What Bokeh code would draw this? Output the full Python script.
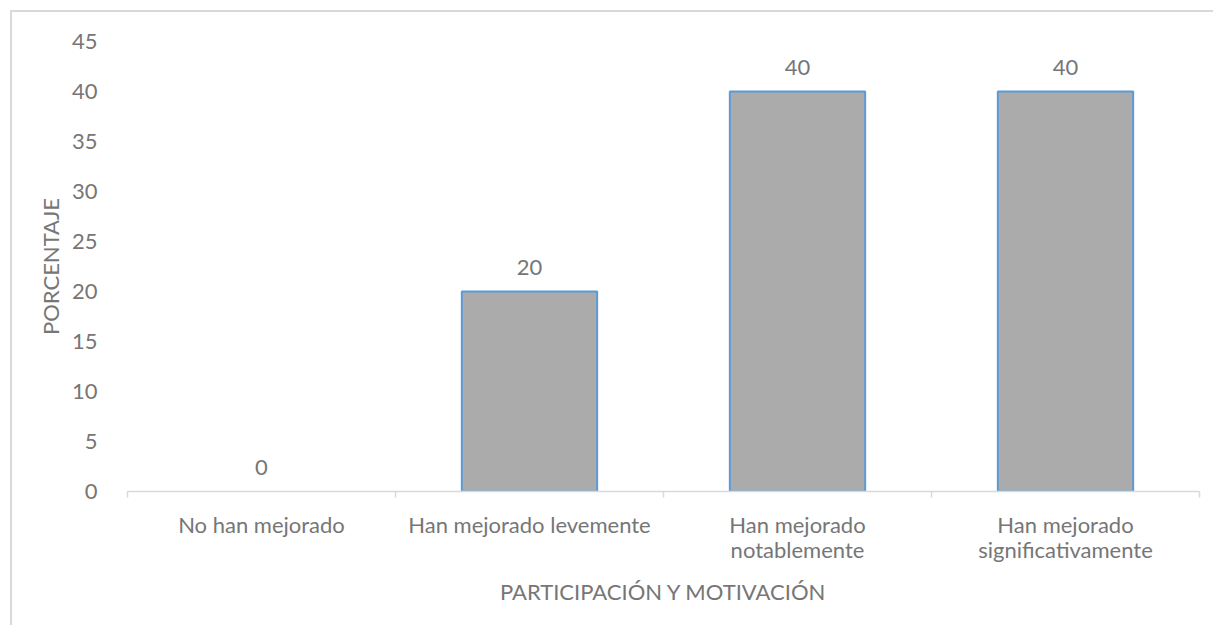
from bokeh.plotting import figure
from bokeh.models import ColumnDataSource, FixedTicker, Range1d
from bokeh.core.properties import value
from bokeh.embed import file_html
from bokeh.resources import INLINE

categories = ["No han mejorado", "Han mejorado levemente",
              "Han mejorado\nnotablemente", "Han mejorado\nsignificativamente"]
values = [0, 20, 40, 40]
y_ticks = [0, 5, 10, 15, 20, 25, 30, 35, 40, 45]
x_title = "PARTICIPACIÓN Y MOTIVACIÓN"
y_title = "PORCENTAJE"

FONT = "Lato"
FS = "22px"
TXT = "#767676"
GRID = "#d9d9d9"

xs = [i + 0.5 for i in range(len(categories))]
labels = [str(v) for v in values]
edge = ["#5b9bd5" if v > 0 else None for v in values]
src = ColumnDataSource(dict(x=xs, top=values, label=labels, edge=edge))

p = figure(width=1203, height=615, output_backend="svg", toolbar_location=None,
           x_range=Range1d(0, len(categories)), y_range=Range1d(0, 45),
           min_border_left=115, min_border_right=16, min_border_top=29,
           min_border_bottom=136)
p.styles = {"border-left": "2px solid #d9d9d9", "border-top": "2px solid #d9d9d9",
            "margin-left": "10px", "margin-top": "10px"}
p.outline_line_color = None
p.grid.visible = False

p.vbar(x="x", top="top", width=0.505, bottom=0, source=src,
       fill_color="#ababab", line_color="edge", line_width=2)
p.text(x="x", y="top", text="label", source=src, text_align="center",
       text_baseline="middle", y_offset=-24, text_color=TXT,
       text_font=value(FONT), text_font_size=FS)

xa = p.xaxis[0]
xa.ticker = FixedTicker(ticks=xs, minor_ticks=list(range(len(categories) + 1)))
xa.major_label_overrides = {x: c for x, c in zip(xs, categories)}
xa.major_tick_line_color = None
xa.major_tick_out = 0
xa.minor_tick_in = 0
xa.minor_tick_out = 6
xa.minor_tick_line_color = GRID
xa.minor_tick_line_width = 1.5
xa.axis_line_color = GRID
xa.axis_line_width = 1.5
xa.major_label_text_font = FONT
xa.major_label_text_font_size = FS
xa.major_label_text_color = TXT
xa.major_label_text_line_height = 0.95
xa.major_label_standoff = 13
xa.axis_label = x_title
xa.axis_label_text_font = FONT
xa.axis_label_text_font_size = FS
xa.axis_label_text_font_style = "normal"
xa.axis_label_text_color = TXT
xa.axis_label_standoff = 12

ya = p.yaxis[0]
ya.ticker = FixedTicker(ticks=y_ticks)
ya.major_tick_line_color = None
ya.minor_tick_line_color = None
ya.axis_line_color = None
ya.major_label_text_font = FONT
ya.major_label_text_font_size = FS
ya.major_label_text_color = TXT
ya.major_label_standoff = 24
ya.axis_label = y_title
ya.axis_label_text_font = FONT
ya.axis_label_text_font_size = FS
ya.axis_label_text_font_style = "normal"
ya.axis_label_text_color = TXT
ya.axis_label_standoff = 5

open("out.html", "w").write(file_html(p, INLINE))
